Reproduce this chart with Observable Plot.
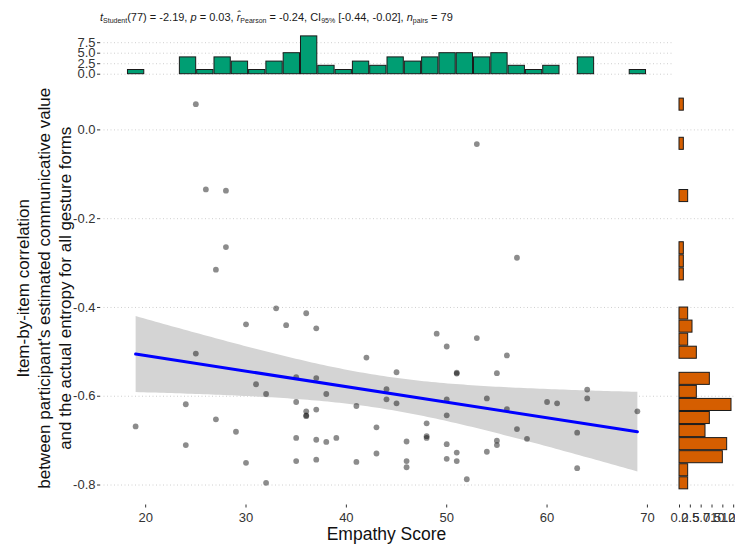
<!DOCTYPE html>
<html>
<head>
<meta charset="utf-8">
<script src="https://cdn.jsdelivr.net/npm/d3@7"></script>
<script src="https://cdn.jsdelivr.net/npm/@observablehq/plot@0.6"></script>
<style>
  html, body { margin: 0; padding: 0; background: white; }
  #wrap { position: relative; width: 735px; height: 549px; overflow: hidden; font-family: "Liberation Sans", Arial, sans-serif; }
  #wrap > svg, #wrap > figure { position: absolute; margin: 0; }
  #title { position: absolute; left: 100px; top: 10px; font-size: 11px; color: #1a1a1a; white-space: nowrap; line-height: 14px; }
  #title sub { font-size: 7px; vertical-align: -2px; }
</style>
</head>
<body>
<div id="wrap">
  <div id="title"><i>t</i><sub>Student</sub>(77) = -2.19, <i>p</i> = 0.03, <i>r&#770;</i><sub>Pearson</sub> = -0.24, CI<sub>95%</sub> [-0.44, -0.02], <i>n</i><sub>pairs</sub> = 79</div>
</div>
<script>
// ---- data ----
const empathy = [19,24,24,25,25,26,27,27,28,28,29,30,30,31,32,32,33,34,35,35,35,35,36,36,36,36,37,37,37,37,37,38,38,39,41,41,42,43,43,44,44,45,45,46,46,46,48,48,48,49,50,50,50,50,50,51,51,51,51,52,53,53,54,54,55,55,55,56,56,57,57,58,60,61,63,63,64,64,69];
const correlation = [-0.668, -0.618,-0.710, 0.058,-0.504, -0.134, -0.315,-0.652, -0.137,-0.264, -0.680, -0.438,-0.750, -0.573, -0.595,-0.795, -0.402, -0.440, -0.557,-0.613,-0.694,-0.746, -0.413,-0.634,-0.643,-0.645, -0.447,-0.559,-0.630,-0.698,-0.743, -0.595,-0.703, -0.694, -0.622,-0.748, -0.513, -0.670,-0.729, -0.584,-0.607, -0.546,-0.616, -0.702,-0.746,-0.760, -0.661,-0.690,-0.694, -0.459, -0.488,-0.607,-0.643,-0.708,-0.741, -0.547,-0.549,-0.727,-0.746, -0.787, -0.032,-0.469, -0.605,-0.725, -0.548,-0.700,-0.710, -0.508,-0.629, -0.288,-0.674, -0.696, -0.613, -0.616, -0.682,-0.762, -0.585,-0.605, -0.634];
const xTicks = [20, 30, 40, 50, 60, 70];
const yTicks = [0, -0.2, -0.4, -0.6, -0.8];
const topCountTicks = [0, 2.5, 5, 7.5];
const rightCountTicks = [0, 2.5, 5, 7.5, 10, 12.5];
const xTitle = "Empathy Score";
const yTitle = "Item-by-item correlation\nbetween participant's estimated communicative value\nand the actual entropy for all gesture forms";

const data = empathy.map((x, i) => ({x, y: correlation[i]}));

// 30 bins, centred on the extremes (ggplot default)
const nb = 30;
function thresholds(vals) {
  const lo = d3.min(vals), hi = d3.max(vals);
  return d3.range(nb + 1).map(k => (2 * (nb - 1) * lo + (2 * k - 1) * (hi - lo)) / (2 * (nb - 1)));
}
const xThr = thresholds(empathy);
const yThr = thresholds(correlation);

const font = '"Liberation Sans", Arial, sans-serif';
const xDomain = [15.5, 72.5];
const yDomain = [-0.845, 0.1];
const grid = {stroke: "#cfcfcf", strokeDasharray: "1,2.5", strokeWidth: 1};
const baseStyle = {fontSize: "13px", fontFamily: font, color: "#333", background: "none", overflow: "visible"};
const wrap = document.getElementById("wrap");

// ---- main scatter ----
const mainPlot = Plot.plot({
  width: 735, height: 549,
  marginLeft: 100, marginRight: 63, marginTop: 85, marginBottom: 44.5,
  style: baseStyle,
  x: {domain: xDomain},
  y: {domain: yDomain},
  marks: [
    Plot.ruleY(yTicks, grid),
    Plot.linearRegressionY(data, {x: "x", y: "y", stroke: "none", fill: "#d4d4d4", fillOpacity: 1, ci: 0.95}),
    Plot.dot(data, {x: "x", y: "y", r: 2.9, fill: "black", fillOpacity: 0.45, stroke: "none"}),
    Plot.linearRegressionY(data, {x: "x", y: "y", ci: 0, stroke: "#0000ff", strokeWidth: 3}),
    Plot.axisX({ticks: xTicks, tickSize: 3, tickPadding: 5, label: null, tickFormat: d => String(d)}),
    Plot.axisY({ticks: yTicks, tickSize: 3, tickPadding: 2, label: null, tickFormat: d => d.toFixed(1)}),
    Plot.text([xTitle], {text: d => d, frameAnchor: "bottom", dy: 35, fontSize: 17.5, fill: "#111"}),
    Plot.text([yTitle], {text: d => d, frameAnchor: "left", textAnchor: "middle", lineAnchor: "middle", rotate: -90, dx: -57, dy: -7, fontSize: 17, lineHeight: 1.22, fill: "#111"})
  ]
});
mainPlot.style.left = "0px"; mainPlot.style.top = "0px";
wrap.appendChild(mainPlot);

// ---- top marginal histogram ----
const topPlot = Plot.plot({
  width: 735, height: 78,
  marginLeft: 100, marginRight: 63, marginTop: 34, marginBottom: 2.4,
  style: baseStyle,
  x: {domain: xDomain, axis: null},
  y: {domain: [-0.45, 9.45]},
  marks: [
    Plot.ruleY(topCountTicks, grid),
    Plot.rectY(data, Plot.binX({y: "count"}, {x: "x", thresholds: xThr, filter: null, fill: "#009E73", stroke: "#1a1a1a", strokeWidth: 1})),
    Plot.axisY({ticks: topCountTicks, tickSize: 3, tickPadding: 2, label: null, tickFormat: d => d.toFixed(1)})
  ]
});
topPlot.style.left = "0px"; topPlot.style.top = "0px";
wrap.appendChild(topPlot);

// ---- right marginal histogram ----
const rightPlot = Plot.plot({
  width: 63, height: 549,
  marginLeft: 4.4, marginRight: 1.4, marginTop: 85, marginBottom: 44.5,
  style: baseStyle,
  x: {domain: [-0.6, 12.6]},
  y: {domain: yDomain, axis: null},
  marks: [
    Plot.ruleY(yTicks, grid),
    Plot.rectX(data, Plot.binY({x: "count"}, {y: "y", thresholds: yThr, filter: null, fill: "#D55E00", stroke: "#1a1a1a", strokeWidth: 1})),
    Plot.axisX({ticks: rightCountTicks, tickSize: 3, tickPadding: 5, label: null, tickFormat: d => d.toFixed(1)})
  ]
});
rightPlot.style.left = "672px"; rightPlot.style.top = "0px";
wrap.appendChild(rightPlot);
</script>
</body>
</html>
